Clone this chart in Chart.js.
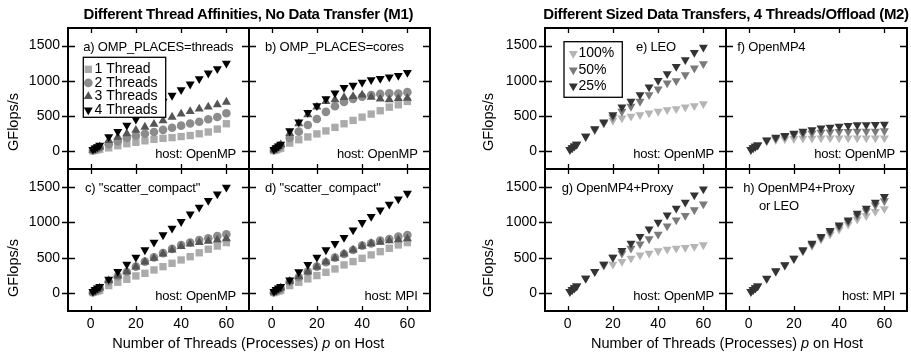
<!DOCTYPE html>
<html><head><meta charset="utf-8">
<script src="https://cdn.jsdelivr.net/npm/chart.js@4.4.1/dist/chart.umd.min.js"></script>
<style>
html,body{margin:0;padding:0;background:#fff;}
#wrap{position:relative;width:911px;height:358px;overflow:hidden;background:#fff;font-family:"Liberation Sans",Arial,Helvetica,sans-serif;color:#000;}
canvas{position:absolute;}
.t{position:absolute;white-space:nowrap;color:#000;}
</style></head><body><div id="wrap"></div>
<script>
// ---------- data ----------
const threads = [1,2,3,4,8,12,16,20,24,28,32,36,40,44,48,52,56,60];
const xTickValues = [0,20,40,60];
const yTickValues = [0,500,1000,1500];
const affinityLabels = ['1 Thread','2 Threads','3 Threads','4 Threads'];
const transferLabels = ['100%','50%','25%'];

// a) OMP_PLACES=threads
const aThread1 = [8,15,22,30,50,80,109,128,150,170,185,195,210,225,250,275,316,392];
const aThread2 = [15,30,42,55,100,142,189,222,250,275,305,335,365,395,420,455,487,540];
const aThread3 = [18,35,50,65,156,203,250,300,345,385,435,487,530,566,602,630,661,700];
const aThread4 = [25,45,65,85,205,280,370,455,540,625,710,793,873,953,1029,1109,1170,1250];
// b) OMP_PLACES=cores
const bThread1 = [10,20,35,45,118,165,205,248,290,340,392,439,486,529,576,628,661,708];
const bThread2 = [20,40,60,80,190,280,375,460,560,640,700,745,775,800,815,825,820,840];
const bThread3 = [22,45,70,95,255,395,520,630,708,732,765,780,800,770,745,735,750,755];
const bThread4 = [25,50,75,100,290,415,550,647,746,826,906,935,980,1015,1034,1053,1075,1119];
// c) "scatter_compact", host OpenMP
const cThread1 = [10,20,30,40,108,155,197,244,281,328,375,422,469,515,570,620,665,713];
const cThread2 = [15,35,50,70,165,240,300,375,445,505,565,625,680,715,750,775,805,830];
const cThread3 = [18,38,55,75,180,245,305,370,440,495,555,610,660,695,715,735,750,770];
const cThread4 = [25,50,72,95,197,305,408,507,610,718,821,915,1008,1116,1210,1304,1398,1491];
// d) "scatter_compact", host MPI
const dThread1 = [10,20,30,40,108,155,202,249,295,342,399,446,492,540,586,633,680,713];
const dThread2 = [15,35,50,70,164,225,305,375,436,502,553,610,671,703,741,764,797,821];
const dThread3 = [18,38,55,75,170,235,300,370,440,495,555,610,665,700,720,740,755,770];
const dThread4 = [25,50,72,95,185,300,405,505,610,700,783,891,994,1079,1172,1252,1327,1407];
// e) LEO
const eFull = [25,50,75,100,212,316,401,439,472,496,519,543,566,590,604,628,647,675];
const eHalf = [25,50,75,100,212,307,401,486,566,637,708,802,883,968,1001,1086,1180,1241];
const eQuarter = [25,50,75,100,212,321,415,519,628,708,802,911,1005,1100,1204,1298,1402,1477];
// f) OpenMP4
const fFull = [25,50,70,90,145,165,175,180,185,185,188,188,188,188,188,188,188,190];
const fHalf = [25,50,70,90,155,185,210,235,250,260,270,275,280,282,283,285,285,290];
const fQuarter = [25,50,70,90,160,200,225,255,285,305,330,340,355,365,375,378,380,385];
// g) OpenMP4+Proxy
const gFull = [25,50,75,100,210,305,385,408,446,492,539,563,596,619,633,643,657,680];
const gHalf = [25,50,75,100,211,305,408,507,563,633,694,765,830,947,1032,1093,1173,1257];
const gQuarter = [25,50,75,100,211,305,408,507,600,704,797,905,999,1102,1196,1280,1384,1468];
// h) OpenMP4+Proxy or LEO
const hFull = [25,50,75,100,205,305,390,480,590,670,760,830,900,970,1040,1090,1150,1190];
const hHalf = [25,50,75,100,208,310,395,490,600,690,780,860,935,1010,1090,1160,1240,1300];
const hQuarter = [25,50,75,100,211,314,399,492,610,704,797,882,961,1032,1126,1196,1280,1360];

// ---------- styles ----------
const affStyles = [
  {style:'rect', rot:0, r:5.2, color:'#ababab'},
  {style:'circle', rot:0, r:4.3, color:'#8c8c8c'},
  {style:'triangle', rot:0, r:5.2, color:'#555555'},
  {style:'triangle', rot:180, r:5.2, color:'#000000'}
];
const trStyles = [
  {style:'triangle', rot:180, r:5.2, color:'#b5b5b5'},
  {style:'triangle', rot:180, r:5.2, color:'#7a7a7a'},
  {style:'triangle', rot:180, r:5.2, color:'#333333'}
];

const panels = [
  {id:'a', left:68, top:28, w:181, h:141, col:0, row:0, labels:affinityLabels, styles:affStyles, series:[aThread1,aThread2,aThread3,aThread4], legend:{x:15.3,y:29.3,w:82.4,h:60,rows:[41.3,54.9,68.5,82.1],mx:20.3,tx:26.5}},
  {id:'b', left:249, top:28, w:181, h:141, col:1, row:0, labels:affinityLabels, styles:affStyles, series:[bThread1,bThread2,bThread3,bThread4]},
  {id:'c', left:68, top:169, w:181, h:142, col:0, row:1, labels:affinityLabels, styles:affStyles, series:[cThread1,cThread2,cThread3,cThread4]},
  {id:'d', left:249, top:169, w:181, h:142, col:1, row:1, labels:affinityLabels, styles:affStyles, series:[dThread1,dThread2,dThread3,dThread4]},
  {id:'e', left:545, top:28, w:181, h:141, col:0, row:0, labels:transferLabels, styles:trStyles, series:[eFull,eHalf,eQuarter], legend:{x:19,y:13.7,w:58.3,h:55.6,rows:[25.5,42,58],mx:28.3,tx:33.5}},
  {id:'f', left:726, top:28, w:181, h:141, col:1, row:0, labels:transferLabels, styles:trStyles, series:[fFull,fHalf,fQuarter]},
  {id:'g', left:545, top:169, w:181, h:142, col:0, row:1, labels:transferLabels, styles:trStyles, series:[gFull,gHalf,gQuarter]},
  {id:'h', left:726, top:169, w:181, h:142, col:1, row:1, labels:transferLabels, styles:trStyles, series:[hFull,hHalf,hQuarter]}
];

const FONT = '"Liberation Sans", Arial, Helvetica, sans-serif';
Chart.defaults.font.family = FONT;
Chart.defaults.color = '#000';

function drawMarker(ctx, st, x, y) {
  const r = st.r;
  ctx.fillStyle = st.color;
  ctx.beginPath();
  if (st.style === 'rect') {
    const s = Math.SQRT1_2 * r;
    ctx.rect(x - s, y - s, 2*s, 2*s);
  } else if (st.style === 'circle') {
    ctx.arc(x, y, r, 0, Math.PI*2);
  } else {
    const d = st.rot === 180 ? -1 : 1;
    ctx.moveTo(x, y - d*r);
    ctx.lineTo(x + 0.866*r, y + d*0.5*r);
    ctx.lineTo(x - 0.866*r, y + d*0.5*r);
    ctx.closePath();
  }
  ctx.fill();
}

const framePlugin = {
  id: 'frame',
  afterDatasetsDraw(chart, args, opts) {
    const lg = opts.legend;
    if (!lg) return;
    const ctx = chart.ctx, ca = chart.chartArea;
    ctx.save();
    ctx.fillStyle = '#fff';
    ctx.fillRect(ca.left + lg.x, ca.top + lg.y, lg.w, lg.h);
    ctx.strokeStyle = '#000'; ctx.lineWidth = 1.3;
    ctx.strokeRect(ca.left + lg.x, ca.top + lg.y, lg.w, lg.h);
    ctx.font = '14px ' + FONT;
    ctx.textBaseline = 'middle'; ctx.textAlign = 'left';
    opts.labels.forEach((lab, i) => {
      const yy = ca.top + lg.rows[i];
      drawMarker(ctx, opts.styles[i], ca.left + lg.mx, yy);
      ctx.fillStyle = '#000';
      ctx.fillText(lab, ca.left + lg.tx, yy);
    });
    ctx.restore();
  },
  afterDraw(chart, args, opts) {
    const ctx = chart.ctx, ca = chart.chartArea;
    const xs = chart.scales.x, ys = chart.scales.y;
    ctx.save();
    ctx.strokeStyle = '#000';
    ctx.lineWidth = 1.3;
    ctx.beginPath();
    yTickValues.forEach(v => {
      const y = Math.round(ys.getPixelForValue(v)) + 0.5;
      ctx.moveTo(ca.left - (opts.outLeft ? 6 : 0), y); ctx.lineTo(ca.left + 7, y);
      ctx.moveTo(ca.right - 7, y); ctx.lineTo(ca.right, y);
    });
    xTickValues.forEach(v => {
      const x = Math.round(xs.getPixelForValue(v)) + 0.5;
      ctx.moveTo(x, ca.top); ctx.lineTo(x, ca.top + 5);
      ctx.moveTo(x, ca.bottom - 5); ctx.lineTo(x, ca.bottom);
    });
    ctx.stroke();
    ctx.lineWidth = 2;
    ctx.strokeRect(ca.left, ca.top, ca.right - ca.left, ca.bottom - ca.top);
    ctx.restore();
  }
};

const wrap = document.getElementById('wrap');
const P = 10, AX = 58, XH = 32;

function noPad(s) { s.paddingTop = 0; s.paddingBottom = 0; s.paddingLeft = 0; s.paddingRight = 0; }

panels.forEach(p => {
  const showY = p.col === 0, showX = p.row === 1;
  const cw = p.w + 2*P + (showY ? AX : 0);
  const ch = p.h + 2*P + (showX ? XH : 0);
  const cv = document.createElement('canvas');
  cv.width = cw; cv.height = ch;
  cv.style.left = (p.left - P - (showY ? AX : 0)) + 'px';
  cv.style.top = (p.top - P) + 'px';
  cv.style.width = cw + 'px'; cv.style.height = ch + 'px';
  wrap.appendChild(cv);
  const n = p.series.length;
  const datasets = p.series.map((vals, i) => {
    const st = p.styles[i];
    return {
      label: p.labels[i],
      data: threads.map((x, j) => ({x: x, y: vals[j]})),
      showLine: false,
      pointStyle: st.style,
      pointRotation: st.rot,
      pointRadius: st.r,
      pointBackgroundColor: st.color,
      backgroundColor: st.color,
      borderColor: st.color,
      pointBorderWidth: 0,
      order: n - i
    };
  });
  const xScale = {
    type: 'linear', min: -10, max: 70, display: showX,
    grid: {display: false, drawTicks: false},
    border: {display: false},
    ticks: {padding: 5, font: {size: 14}, color: '#000', maxRotation: 0, callback: v => String(v)},
    afterBuildTicks: s => { s.ticks = xTickValues.map(v => ({value: v})); },
    afterFit: s => { noPad(s); if (showX) s.height = XH; }
  };
  const yScale = {
    type: 'linear', min: -250, max: 1750, display: showY,
    grid: {display: false, drawTicks: false},
    border: {display: false},
    ticks: {padding: 8, font: {size: 14}, color: '#000', callback: v => String(v)},
    afterBuildTicks: s => { s.ticks = yTickValues.map(v => ({value: v})); },
    afterFit: s => { noPad(s); if (showY) s.width = AX; }
  };
  new Chart(cv, {
    type: 'scatter',
    data: {datasets: datasets},
    options: {
      responsive: false, animation: false, events: [], devicePixelRatio: 1,
      layout: {padding: P},
      plugins: {
        legend: {display: false}, tooltip: {enabled: false},
        frame: {legend: p.legend || null, labels: p.labels, styles: p.styles, outLeft: showY}
      },
      scales: {x: xScale, y: yScale}
    },
    plugins: [framePlugin]
  });
});

// ---------- HTML text ----------
function addText(html, x, baseline, size, opts) {
  opts = opts || {};
  const d = document.createElement('div');
  d.className = 't';
  d.innerHTML = html;
  d.style.fontSize = size + 'px';
  d.style.lineHeight = size + 'px';
  if (opts.bold) d.style.fontWeight = 'bold';
  if (opts.ls !== undefined) d.style.letterSpacing = opts.ls + 'px';
  d.style.top = (baseline - size * 0.8465) + 'px';
  d.style.left = x + 'px';
  if (opts.align === 'center') d.style.transform = 'translateX(-50%)';
  else if (opts.align === 'right') d.style.transform = 'translateX(-100%)';
  wrap.appendChild(d);
  return d;
}
function addVText(text, cx, cy, size) {
  const d = document.createElement('div');
  d.className = 't';
  d.textContent = text;
  d.style.fontSize = size + 'px';
  d.style.lineHeight = size + 'px';
  d.style.left = cx + 'px';
  d.style.top = cy + 'px';
  d.style.transform = 'translate(-50%,-50%) rotate(-90deg)';
  wrap.appendChild(d);
}

addText('Different Thread Affinities, No Data Transfer (M1)', 248.3, 18.3, 15, {bold:true, align:'center', ls:-0.35});
addText('Different Sized Data Transfers, 4 Threads/Offload (M2)', 726, 18.3, 15, {bold:true, align:'center', ls:-0.35});
const xTitle = 'Number of Threads (Processes) <i>p</i> on Host';
addText(xTitle, 248.3, 348.3, 14.5, {align:'center'});
addText(xTitle, 727, 348.3, 14.5, {align:'center'});
addVText('GFlops/s', 12.5, 122, 14.5);
addVText('GFlops/s', 12.5, 268, 14.5);
addVText('GFlops/s', 487.5, 122, 14.5);
addVText('GFlops/s', 487.5, 268, 14.5);

const LS = -0.2;
addText('a) OMP_PLACES=threads', 83.3, 50.7, 13, {ls:LS});
addText('b) OMP_PLACES=cores', 265, 50.7, 13, {ls:LS});
addText('c) "scatter_compact"', 85, 192.5, 13, {ls:LS});
addText('d) "scatter_compact"', 265, 192.5, 13, {ls:LS});
addText('e) LEO', 636, 50.7, 13, {ls:LS});
addText('f) OpenMP4', 737.3, 50.7, 13, {ls:LS});
addText('g) OpenMP4+Proxy', 561.7, 192.5, 13, {ls:LS});
addText('h) OpenMP4+Proxy', 743.3, 192.5, 13, {ls:LS});
addText('or LEO', 759, 210, 13, {ls:LS});
addText('host: OpenMP', 236, 158.3, 13, {ls:LS, align:'right'});
addText('host: OpenMP', 417.7, 158.3, 13, {ls:LS, align:'right'});
addText('host: OpenMP', 236, 300.5, 13, {ls:LS, align:'right'});
addText('host: MPI', 417.7, 300.5, 13, {ls:LS, align:'right'});
addText('host: OpenMP', 714, 158.3, 13, {ls:LS, align:'right'});
addText('host: OpenMP', 895, 158.3, 13, {ls:LS, align:'right'});
addText('host: OpenMP', 714, 300.5, 13, {ls:LS, align:'right'});
addText('host: MPI', 895, 300.5, 13, {ls:LS, align:'right'});
</script></body></html>
